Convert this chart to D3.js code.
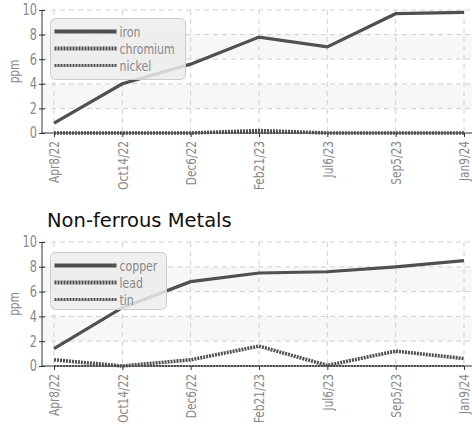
<!DOCTYPE html>
<html>
<head>
<meta charset="utf-8">
<script src="https://cdn.jsdelivr.net/npm/d3@7"></script>
<style>
  body { margin: 0; background: #fff; }
  text { font-family: "DejaVu Sans", sans-serif; }
  .narrow { font-family: "DejaVu Sans Condensed", "DejaVu Sans", sans-serif; font-stretch: condensed; }
</style>
</head>
<body>
<script>
var dates = ['Apr8/22', 'Oct14/22', 'Dec6/22', 'Feb21/23', 'Jul6/23', 'Sep5/23', 'Jan9/24'];
var yTicks = [0, 2, 4, 6, 8, 10];

// ferrous
var iron = [0.8, 4.0, 5.6, 7.8, 7.0, 9.7, 9.8];
var chromium = [0, 0, 0, 0.2, 0, 0, 0];
var nickel = [0, 0, 0, 0, 0, 0, 0];

// non-ferrous
var copper = [1.4, 4.7, 6.8, 7.5, 7.6, 8.0, 8.5];
var lead = [0.5, 0, 0.5, 1.6, 0.05, 1.2, 0.6];
var tin = [0, 0, 0, 0, 0, 0, 0];

var svgWidth = 472, svgHeight = 425;
var lineColor = '#505050';
var squeeze = 0.84;   // narrow the condensed font a bit more

var styles = [
  {width: 3.2, dash: null},
  {width: 3.6, dash: '2,1'},
  {width: 2.2, dash: '2,1'}
];

var svg = d3.select('body').append('svg')
  .attr('width', svgWidth)
  .attr('height', svgHeight);

function drawChart(top, bottom, names, series, legendBox, title) {
  var g = svg.append('g');
  var x = d3.scalePoint().domain(dates).range([54, 464]);
  var y = d3.scaleLinear().domain([0, 10]).range([bottom, top]);

  if (title) {
    g.append('text').attr('x', 47).attr('y', top - 15)
      .attr('font-size', 19.5).attr('fill', '#111')
      .text(title);
  }

  // striped bands
  [[2, 4], [6, 8]].forEach(function (b) {
    g.append('rect')
      .attr('x', 42).attr('y', y(b[1]))
      .attr('width', 430).attr('height', y(b[0]) - y(b[1]))
      .attr('fill', '#f7f7f7');
  });

  // grid
  g.selectAll('.hgrid').data(yTicks.slice(1)).enter().append('line')
    .attr('x1', 42).attr('x2', 472)
    .attr('y1', function (d) { return y(d); })
    .attr('y2', function (d) { return y(d); })
    .attr('stroke', '#d0d0d0').attr('stroke-dasharray', '5,4');
  g.selectAll('.vgrid').data(dates).enter().append('line')
    .attr('x1', function (d) { return x(d); })
    .attr('x2', function (d) { return x(d); })
    .attr('y1', top).attr('y2', bottom)
    .attr('stroke', '#d0d0d0').attr('stroke-dasharray', '5,4');

  // axes
  var yAxis = g.append('g').attr('transform', 'translate(42,0)')
    .call(d3.axisLeft(y).tickValues(yTicks).tickSize(4));
  yAxis.select('.domain').attr('stroke', '#333').attr('d', 'M0,' + (top) + 'V' + bottom);
  yAxis.selectAll('.tick line').attr('stroke', '#333').attr('x2', 3).attr('x1', -3);
  yAxis.selectAll('text').attr('class', 'narrow').attr('fill', '#888').attr('font-size', 15)
    .attr('x', 0)
    .attr('transform', 'translate(-5,0) scale(' + squeeze + ',1)');

  var xAxis = g.append('g').attr('transform', 'translate(0,' + bottom + ')')
    .call(d3.axisBottom(x).tickSize(4));
  xAxis.select('.domain').attr('stroke', '#333').attr('d', 'M42,0H472');
  xAxis.selectAll('.tick line').attr('stroke', '#333');
  xAxis.selectAll('text')
    .attr('class', 'narrow')
    .attr('fill', '#888').attr('font-size', 14)
    .attr('text-anchor', 'end')
    .attr('dy', '0.35em')
    .attr('transform', 'translate(0,8) rotate(-90) scale(' + squeeze + ',1)')
    .attr('x', 0).attr('y', 0);

  g.append('text')
    .attr('class', 'narrow')
    .attr('transform', 'translate(19,' + ((top + bottom) / 2) + ') rotate(-90) scale(' + squeeze + ',1)')
    .attr('text-anchor', 'middle')
    .attr('font-size', 14).attr('fill', '#888')
    .text('ppm');

  var line = d3.line()
    .x(function (d, i) { return x(dates[i]); })
    .y(function (d) { return y(d); });

  // draw lowest first so the solid one sits on top
  for (var k = series.length - 1; k >= 0; k--) {
    g.append('path')
      .attr('d', line(series[k]))
      .attr('fill', 'none')
      .attr('stroke', lineColor)
      .attr('stroke-width', styles[k].width)
      .attr('stroke-dasharray', styles[k].dash);
  }

  // legend
  var lg = g.append('g');
  lg.append('rect')
    .attr('x', legendBox[0]).attr('y', legendBox[1])
    .attr('width', legendBox[2]).attr('height', legendBox[3])
    .attr('rx', 5)
    .attr('fill', 'rgba(236,236,236,0.85)')
    .attr('stroke', '#ccc');
  names.forEach(function (n, i) {
    var cy = legendBox[1] + 13 + i * 17;
    lg.append('line')
      .attr('x1', legendBox[0] + 4).attr('x2', legendBox[0] + 66)
      .attr('y1', cy).attr('y2', cy)
      .attr('stroke', lineColor)
      .attr('stroke-width', styles[i].width + 0.6)
      .attr('stroke-dasharray', styles[i].dash);
    lg.append('text')
      .attr('class', 'narrow')
      .attr('transform', 'translate(' + (legendBox[0] + 69) + ',' + cy + ') scale(' + squeeze + ',1)')
      .attr('dy', '0.35em')
      .attr('font-size', 14.5).attr('fill', '#888')
      .text(n);
  });
}

drawChart(10, 133, ['iron', 'chromium', 'nickel'], [iron, chromium, nickel], [50.5, 18.5, 135, 61], null);
drawChart(242, 366, ['copper', 'lead', 'tin'], [copper, lead, tin], [50.5, 252.5, 116, 57], 'Non-ferrous Metals');
</script>
</body>
</html>
